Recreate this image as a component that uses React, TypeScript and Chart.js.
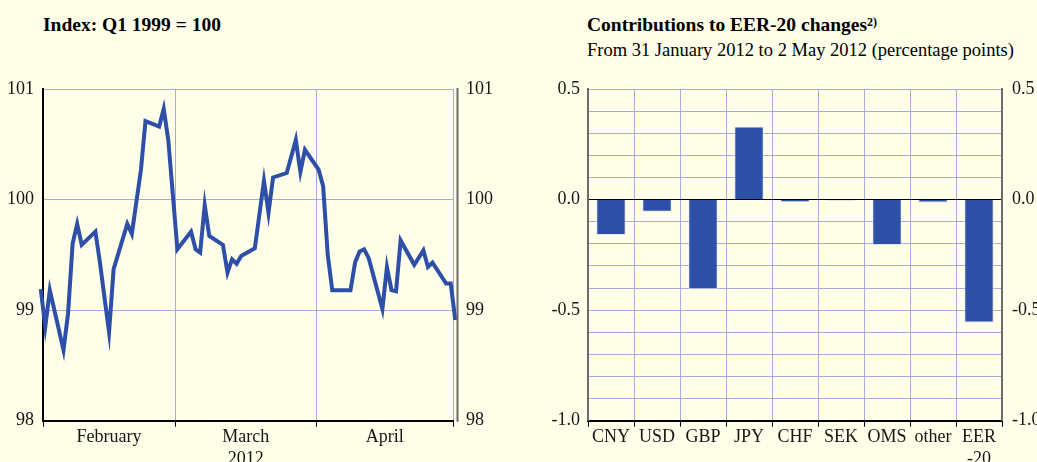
import React, { useEffect, useRef } from "react";
import Chart from "chart.js/auto";

// ---- Left chart data (days counted from 1 February 2012) ----
const lineDays = [-1, 0, 1, 4, 5, 6, 7, 8, 11, 12, 14, 15, 18, 19, 21, 22, 25, 26, 27, 29, 32, 33, 34, 35, 36, 39, 40, 41, 42, 43, 46, 48, 49, 50, 53, 55, 56, 57, 60, 61, 62, 63, 67, 68, 69, 70, 71, 74, 75, 76, 77, 78, 81, 83, 84, 85, 88, 89, 90];
const lineValues = [99.19, 98.85, 99.18, 98.64, 98.97, 99.6, 99.78, 99.59, 99.71, 99.43, 98.8, 99.37, 99.78, 99.69, 100.27, 100.71, 100.66, 100.82, 100.54, 99.55, 99.71, 99.55, 99.52, 99.95, 99.67, 99.59, 99.34, 99.46, 99.42, 99.49, 99.56, 100.17, 99.88, 100.2, 100.24, 100.54, 100.25, 100.45, 100.27, 100.12, 99.5, 99.18, 99.18, 99.43, 99.53, 99.55, 99.47, 99.01, 99.39, 99.18, 99.17, 99.63, 99.41, 99.54, 99.39, 99.43, 99.24, 99.24, 98.91];
const monthStarts = [0, 29, 60, 90];
const monthLabelPos = [14.5, 44.5, 75];
const monthLabels: (string | string[])[] = ["February", ["March", "2012"], "April"];
const indexTicks = [98, 99, 100, 101];

// ---- Right chart data ----
const currencies: (string | string[])[] = ["CNY", "USD", "GBP", "JPY", "CHF", "SEK", "OMS", "other", ["EER", "-20"]];
const contributions = [-0.16, -0.055, -0.405, 0.33, -0.012, -0.004, -0.205, -0.013, -0.556];

const BG = "#fefee9";
const BLUE = "#2d4fa8";
const GRID = "#a7aadd";
const TEXT = "#161616";
const FAMILY = "'Liberation Serif', 'DejaVu Serif', serif";
const FONT = { family: FAMILY, size: 18 };

function isBoundary(v: number) {
  return monthStarts.indexOf(v) >= 0;
}

export default function App() {
  const leftRef = useRef<HTMLCanvasElement>(null);
  const rightRef = useRef<HTMLCanvasElement>(null);

  useEffect(() => {
    document.body.style.margin = "0";
    document.body.style.background = BG;

    const rightBorder = {
      id: "rightBorder",
      afterDraw(chart: any) {
        const { ctx, chartArea } = chart;
        ctx.save();
        ctx.strokeStyle = "#6b6b6b";
        ctx.lineWidth = 2;
        ctx.beginPath();
        ctx.moveTo(chartArea.right + 4.5, chartArea.top - 1);
        ctx.lineTo(chartArea.right + 4.5, chartArea.bottom + 1);
        ctx.stroke();
        ctx.restore();
      },
    };

    const left = new Chart(leftRef.current!, {
      type: "line",
      data: {
        datasets: [
          {
            data: lineDays.map((d, i) => ({ x: d + 0.5, y: lineValues[i] })),
            borderColor: BLUE,
            borderWidth: 4,
            pointRadius: 0,
            tension: 0,
            clip: false as any,
          },
        ],
      },
      options: {
        animation: false,
        responsive: false,
        maintainAspectRatio: false,
        layout: { padding: { top: 89, left: 0, right: 0, bottom: 0 } },
        plugins: { legend: { display: false }, tooltip: { enabled: false } },
        scales: {
          x: {
            type: "linear",
            min: 0,
            max: 90,
            afterBuildTicks: (s: any) => {
              s.ticks = [...monthStarts, ...monthLabelPos].sort((a, b) => a - b).map((v) => ({ value: v }));
            },
            grid: {
              color: (c: any) => (isBoundary(c.tick?.value) ? GRID : "transparent"),
              tickColor: (c: any) => (isBoundary(c.tick?.value) ? "#000" : "transparent"),
              tickLength: 6,
            },
            border: { color: "#000", width: 2 },
            ticks: {
              autoSkip: false,
              maxRotation: 0,
              padding: 0,
              color: TEXT,
              font: FONT,
              callback: (v: any) => {
                const i = monthLabelPos.indexOf(Number(v));
                return i >= 0 ? monthLabels[i] : "";
              },
            },
            afterFit: (s: any) => {
              s.height = 41.3;
            },
          },
          y: {
            position: "left",
            min: 98,
            max: 101,
            afterBuildTicks: (s: any) => {
              s.ticks = indexTicks.map((v) => ({ value: v }));
            },
            grid: { color: GRID, drawTicks: false },
            border: { color: "#000", width: 2 },
            ticks: { padding: 9, color: TEXT, font: FONT },
            afterFit: (s: any) => {
              s.width = 43;
            },
          },
          y2: {
            position: "right",
            min: 98,
            max: 101,
            afterBuildTicks: (s: any) => {
              s.ticks = indexTicks.map((v) => ({ value: v }));
            },
            grid: { display: false, drawTicks: false },
            border: { display: false },
            ticks: { padding: 13, color: TEXT, font: FONT },
            afterFit: (s: any) => {
              s.width = 67;
            },
          },
        },
      } as any,
      plugins: [rightBorder],
    });

    const fmt = (v: any) => {
      const r = Math.round(Number(v) * 10);
      return r % 5 === 0 ? (r === 0 ? "0.0" : (r / 10).toFixed(1)) : "";
    };

    const right = new Chart(rightRef.current!, {
      type: "bar",
      data: {
        labels: currencies as any,
        datasets: [
          {
            data: contributions,
            backgroundColor: BLUE,
            borderColor: "#e2e4f6",
            borderWidth: 1,
            barPercentage: 0.64,
            categoryPercentage: 1,
          },
        ],
      },
      options: {
        animation: false,
        responsive: false,
        maintainAspectRatio: false,
        layout: { padding: { top: 89, left: 0, right: 0, bottom: 0 } },
        plugins: { legend: { display: false }, tooltip: { enabled: false } },
        scales: {
          x: {
            grid: { color: GRID, tickColor: "#000", tickLength: 6, offset: true },
            border: { color: "#000", width: 2 },
            ticks: { autoSkip: false, maxRotation: 0, padding: 0, color: TEXT, font: FONT },
            afterFit: (s: any) => {
              s.height = 41.3;
            },
          },
          y: {
            position: "left",
            min: -1,
            max: 0.5,
            ticks: { stepSize: 0.1, padding: 8, color: TEXT, font: FONT, autoSkip: false, callback: fmt },
            grid: {
              color: (c: any) => (Math.abs(c.tick?.value ?? 1) < 1e-9 ? "#000" : GRID),
              drawTicks: false,
            },
            border: { color: "#6b6b6b", width: 2 },
            afterFit: (s: any) => {
              s.width = 68;
            },
          },
          y2: {
            position: "right",
            min: -1,
            max: 0.5,
            ticks: { stepSize: 0.1, padding: 10, color: TEXT, font: FONT, autoSkip: false, callback: fmt },
            grid: { display: false, drawTicks: false },
            border: { color: "#6b6b6b", width: 2 },
            afterFit: (s: any) => {
              s.width = 35;
            },
          },
        },
      } as any,
    });

    return () => {
      left.destroy();
      right.destroy();
    };
  }, []);

  const titleStyle: React.CSSProperties = {
    position: "absolute",
    fontFamily: FAMILY,
    lineHeight: "22px",
    color: "#000",
    whiteSpace: "nowrap",
    margin: 0,
  };

  return (
    <div style={{ position: "fixed", left: 0, top: 0, width: 1037, height: 462, background: BG, overflow: "hidden" }}>
      <div style={{ ...titleStyle, left: 43, top: 14.3, fontSize: 19.5, fontWeight: "bold" }}>Index: Q1 1999 = 100</div>
      <div style={{ ...titleStyle, left: 587, top: 14.3, fontSize: 19.5, fontWeight: "bold" }}>
        Contributions to EER-20 changes
        <sup style={{ fontSize: 12, verticalAlign: "top", position: "relative", top: -3 }}>2)</sup>
      </div>
      <div style={{ ...titleStyle, left: 587, top: 39.3, fontSize: 18.5 }}>From 31 January 2012 to 2 May 2012 (percentage points)</div>
      <canvas ref={leftRef} width={520} height={462} style={{ position: "absolute", left: 0, top: 0, display: "block" }} />
      <canvas ref={rightRef} width={517} height={462} style={{ position: "absolute", left: 520, top: 0, display: "block" }} />
    </div>
  );
}
